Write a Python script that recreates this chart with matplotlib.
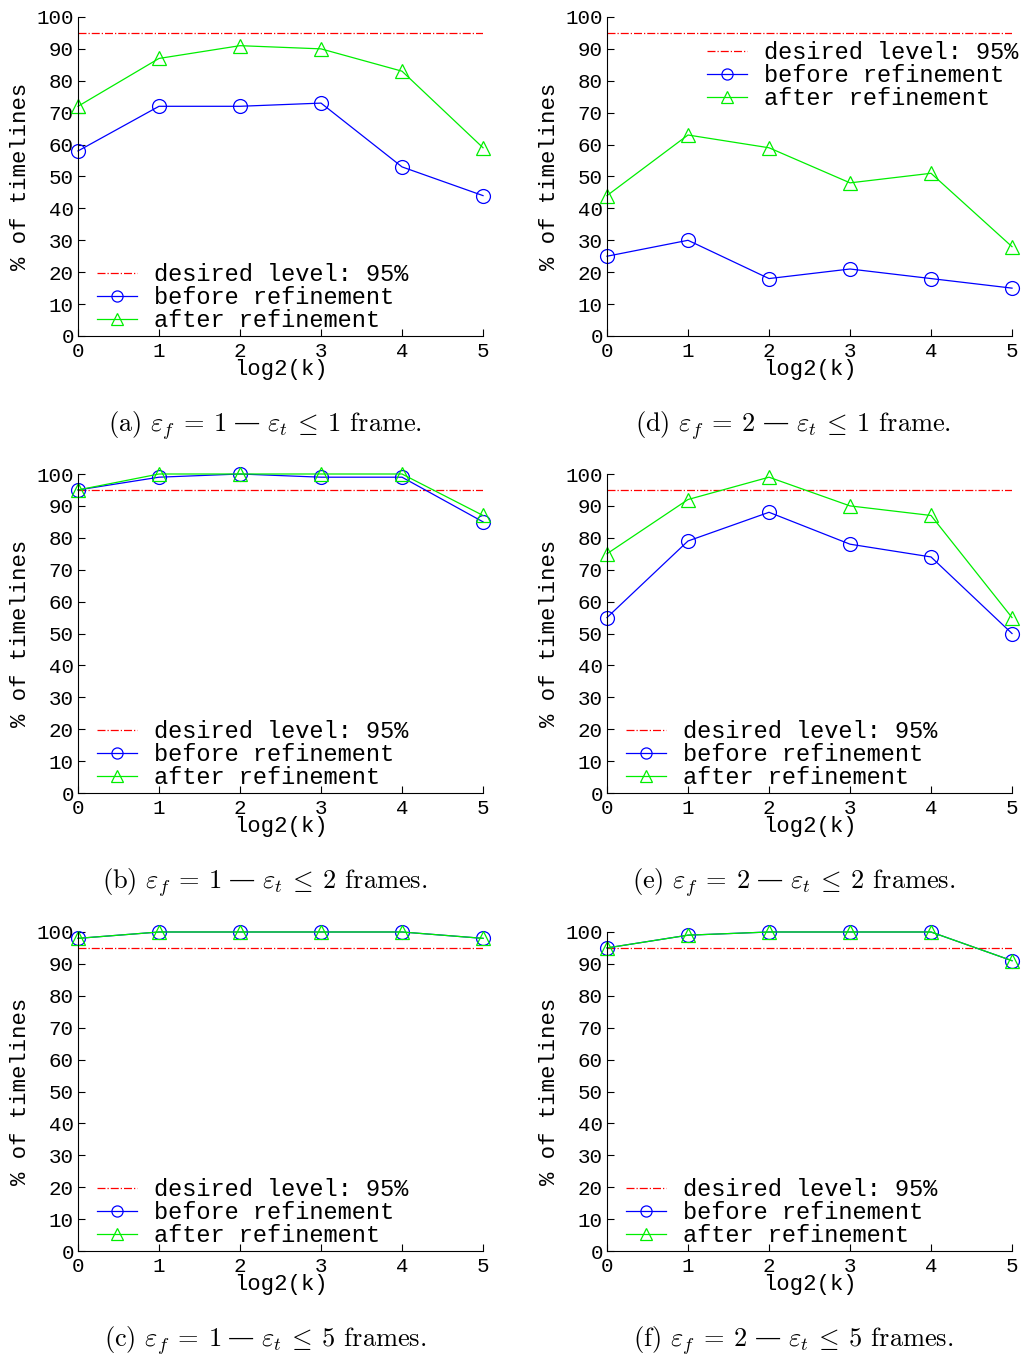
import matplotlib
matplotlib.use("Agg")
import matplotlib.pyplot as plt
from matplotlib.offsetbox import TextArea, HPacker, AnchoredOffsetbox

plt.rcParams['font.family'] = ['Liberation Mono', 'DejaVu Sans Mono']
plt.rcParams['mathtext.fontset'] = 'cm'

log2k = [0, 1, 2, 3, 4, 5]
desired = 95

before_a = [58, 72, 72, 73, 53, 44]
after_a = [72, 87, 91, 90, 83, 59]
before_b = [95, 99, 100, 99, 99, 85]
after_b = [95, 100, 100, 100, 100, 87]
before_c = [98, 100, 100, 100, 100, 98]
after_c = [98, 100, 100, 100, 100, 98]
before_d = [25, 30, 18, 21, 18, 15]
after_d = [44, 63, 59, 48, 51, 28]
before_e = [55, 79, 88, 78, 74, 50]
after_e = [75, 92, 99, 90, 87, 55]
before_f = [95, 99, 100, 100, 100, 91]
after_f = [95, 99, 100, 100, 100, 91]

# caption pieces
cap_letters = ['a', 'b', 'c', 'd', 'e', 'f']
cap_ef = [1, 1, 1, 2, 2, 2]
cap_et = [1, 2, 5, 1, 2, 5]
cap_unit = ['frame', 'frames', 'frames', 'frame', 'frames', 'frames']

panels = [
    (before_a, after_a, 0, 0, 'left'),
    (before_b, after_b, 1, 0, 'left'),
    (before_c, after_c, 2, 0, 'left'),
    (before_d, after_d, 0, 1, 'right'),
    (before_e, after_e, 1, 1, 'left'),
    (before_f, after_f, 2, 1, 'left'),
]

fig = plt.figure(figsize=(10.21, 13.57), dpi=100)

lefts = [0.0764, 0.5945]
bottoms = [0.7524, 0.4156, 0.0781]
w, h = 0.3967, 0.2351
cap_x = [0.2595, 0.777]
cap_y = [0.6868, 0.350, 0.0125]


def add_caption(i, x, y):
    cm = dict(fontsize=19, family='cmr10')
    left = TextArea(r"(%s) $\varepsilon_f\:=\:%d$" % (cap_letters[i], cap_ef[i]),
                    textprops=cm)
    dash = TextArea("—", textprops=dict(fontsize=19, family='DejaVu Serif'))
    right = TextArea(r"$\varepsilon_t\:\leq\:%d$ %s." % (cap_et[i], cap_unit[i]),
                     textprops=cm)
    pack = HPacker(children=[left, dash, right], align='baseline', pad=0, sep=5)
    box = AnchoredOffsetbox(loc='center', child=pack, pad=0, borderpad=0,
                            frameon=False, bbox_to_anchor=(x, y),
                            bbox_transform=fig.transFigure)
    fig.add_artist(box)


for i, (before, after, r, c, legpos) in enumerate(panels):
    ax = fig.add_axes([lefts[c], bottoms[r], w, h])
    ax.plot([log2k[0], log2k[-1]], [desired, desired], '-.', color='red',
            lw=0.9, label='desired level: 95%')
    ax.plot(log2k, before, '-o', color='blue', lw=0.9, ms=10,
            mfc='none', mew=0.9, clip_on=False, label='before refinement')
    ax.plot(log2k, after, '-^', color='#00ee00', lw=0.9, ms=10,
            mfc='none', mew=0.9, clip_on=False, label='after refinement')
    ax.set_xlim(0, 5)
    ax.set_ylim(0, 100)
    ax.set_xticks(log2k)
    ax.set_yticks(range(0, 101, 10))
    for s in ['top', 'right']:
        ax.spines[s].set_visible(False)
    ax.tick_params(direction='in', length=5, labelsize=15, pad=3)
    ax.tick_params(axis='x', pad=4)
    ax.set_xlabel('log2(k)', fontsize=16, labelpad=-1)
    ax.set_ylabel('% of timelines', fontsize=16, labelpad=4)
    if legpos == 'left':
        ax.legend(loc='lower left', bbox_to_anchor=(0.047, 0.012),
                  frameon=False, fontsize=17, borderpad=0,
                  borderaxespad=0, handlelength=1.7, markerscale=0.8,
                  handletextpad=0.7, labelspacing=0.0)
    else:
        ax.legend(loc='upper right', bbox_to_anchor=(1.015, 0.924),
                  frameon=False, fontsize=17, borderpad=0,
                  borderaxespad=0, handlelength=1.7, markerscale=0.8,
                  handletextpad=0.7, labelspacing=0.0)
    add_caption(i, cap_x[c], cap_y[r])

fig.savefig('out.png', dpi=100)
